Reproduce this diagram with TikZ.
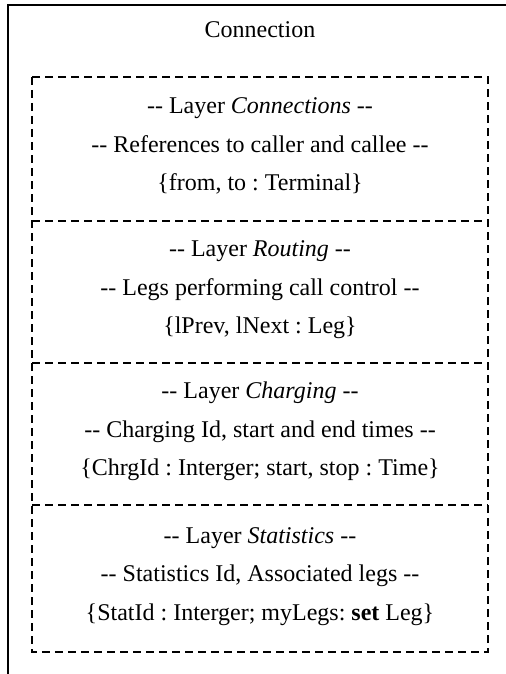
\documentclass[tikz,border=0pt]{standalone}
\usepackage{fontspec}
\setmainfont{Liberation Serif}[Ligatures=TeXOff]
\frenchspacing
\begin{document}
\begin{tikzpicture}[x=0.5pt,y=-0.5pt,
  txt/.style={anchor=base,inner sep=0pt,font=\fontsize{12}{14}\selectfont},
  frame/.style={line width=1pt},
  dsh/.style={line width=1pt,dash pattern=on 4pt off 2.5pt}]
\useasboundingbox (0,0) rectangle (506,674);
% outer frame (clipped on right and bottom)
\coordinate (obl) at (8,674);
\coordinate (otl) at (8,5);
\coordinate (otr) at (506,5);
\draw[frame] (obl) -- (otl) -- (otr);
\node[txt] (title) at (260,38) {Connection};
% dashed layer box
\coordinate (dtl) at (32,77);
\coordinate (dbr) at (488,652);
\draw[dsh] (dtl) rectangle (dbr);
\foreach \y/\n in {221/a,363/b,505/c}{
  \coordinate (l\n) at (32,\y);
  \coordinate (r\n) at (488,\y);
  \draw[dsh] (l\n) -- (r\n);
}
% section 1 (77-221)
\node[txt] (c1) at (260,113.5) {-- Layer \textit{Connections} --};
\node[txt] (c2) at (260,152) {-- References to caller and callee --};
\node[txt] (c3) at (260,190.5) {\{from, to : Terminal\}};
% section 2 (221-363)
\node[txt] (r1) at (260,256.5) {-- Layer \textit{Routing} --};
\node[txt] (r2) at (260,295) {-- Legs performing call control --};
\node[txt] (r3) at (260,333.5) {\{lPrev, lNext : Leg\}};
% section 3 (363-505)
\node[txt] (h1) at (260,398.5) {-- Layer \textit{Charging} --};
\node[txt] (h2) at (260,437) {-- Charging Id, start and end times --};
\node[txt] (h3) at (260,475.5) {\{ChrgId : Interger; start, stop : Time\}};
% section 4 (505-652)
\node[txt] (s1) at (260,543) {-- Layer \textit{Statistics} --};
\node[txt] (s2) at (260,581.5) {-- Statistics Id, Associated legs --};
\node[txt] (s3) at (260,620) {\{StatId : Interger; myLegs: \textbf{set} Leg\}};
\end{tikzpicture}
\end{document}
